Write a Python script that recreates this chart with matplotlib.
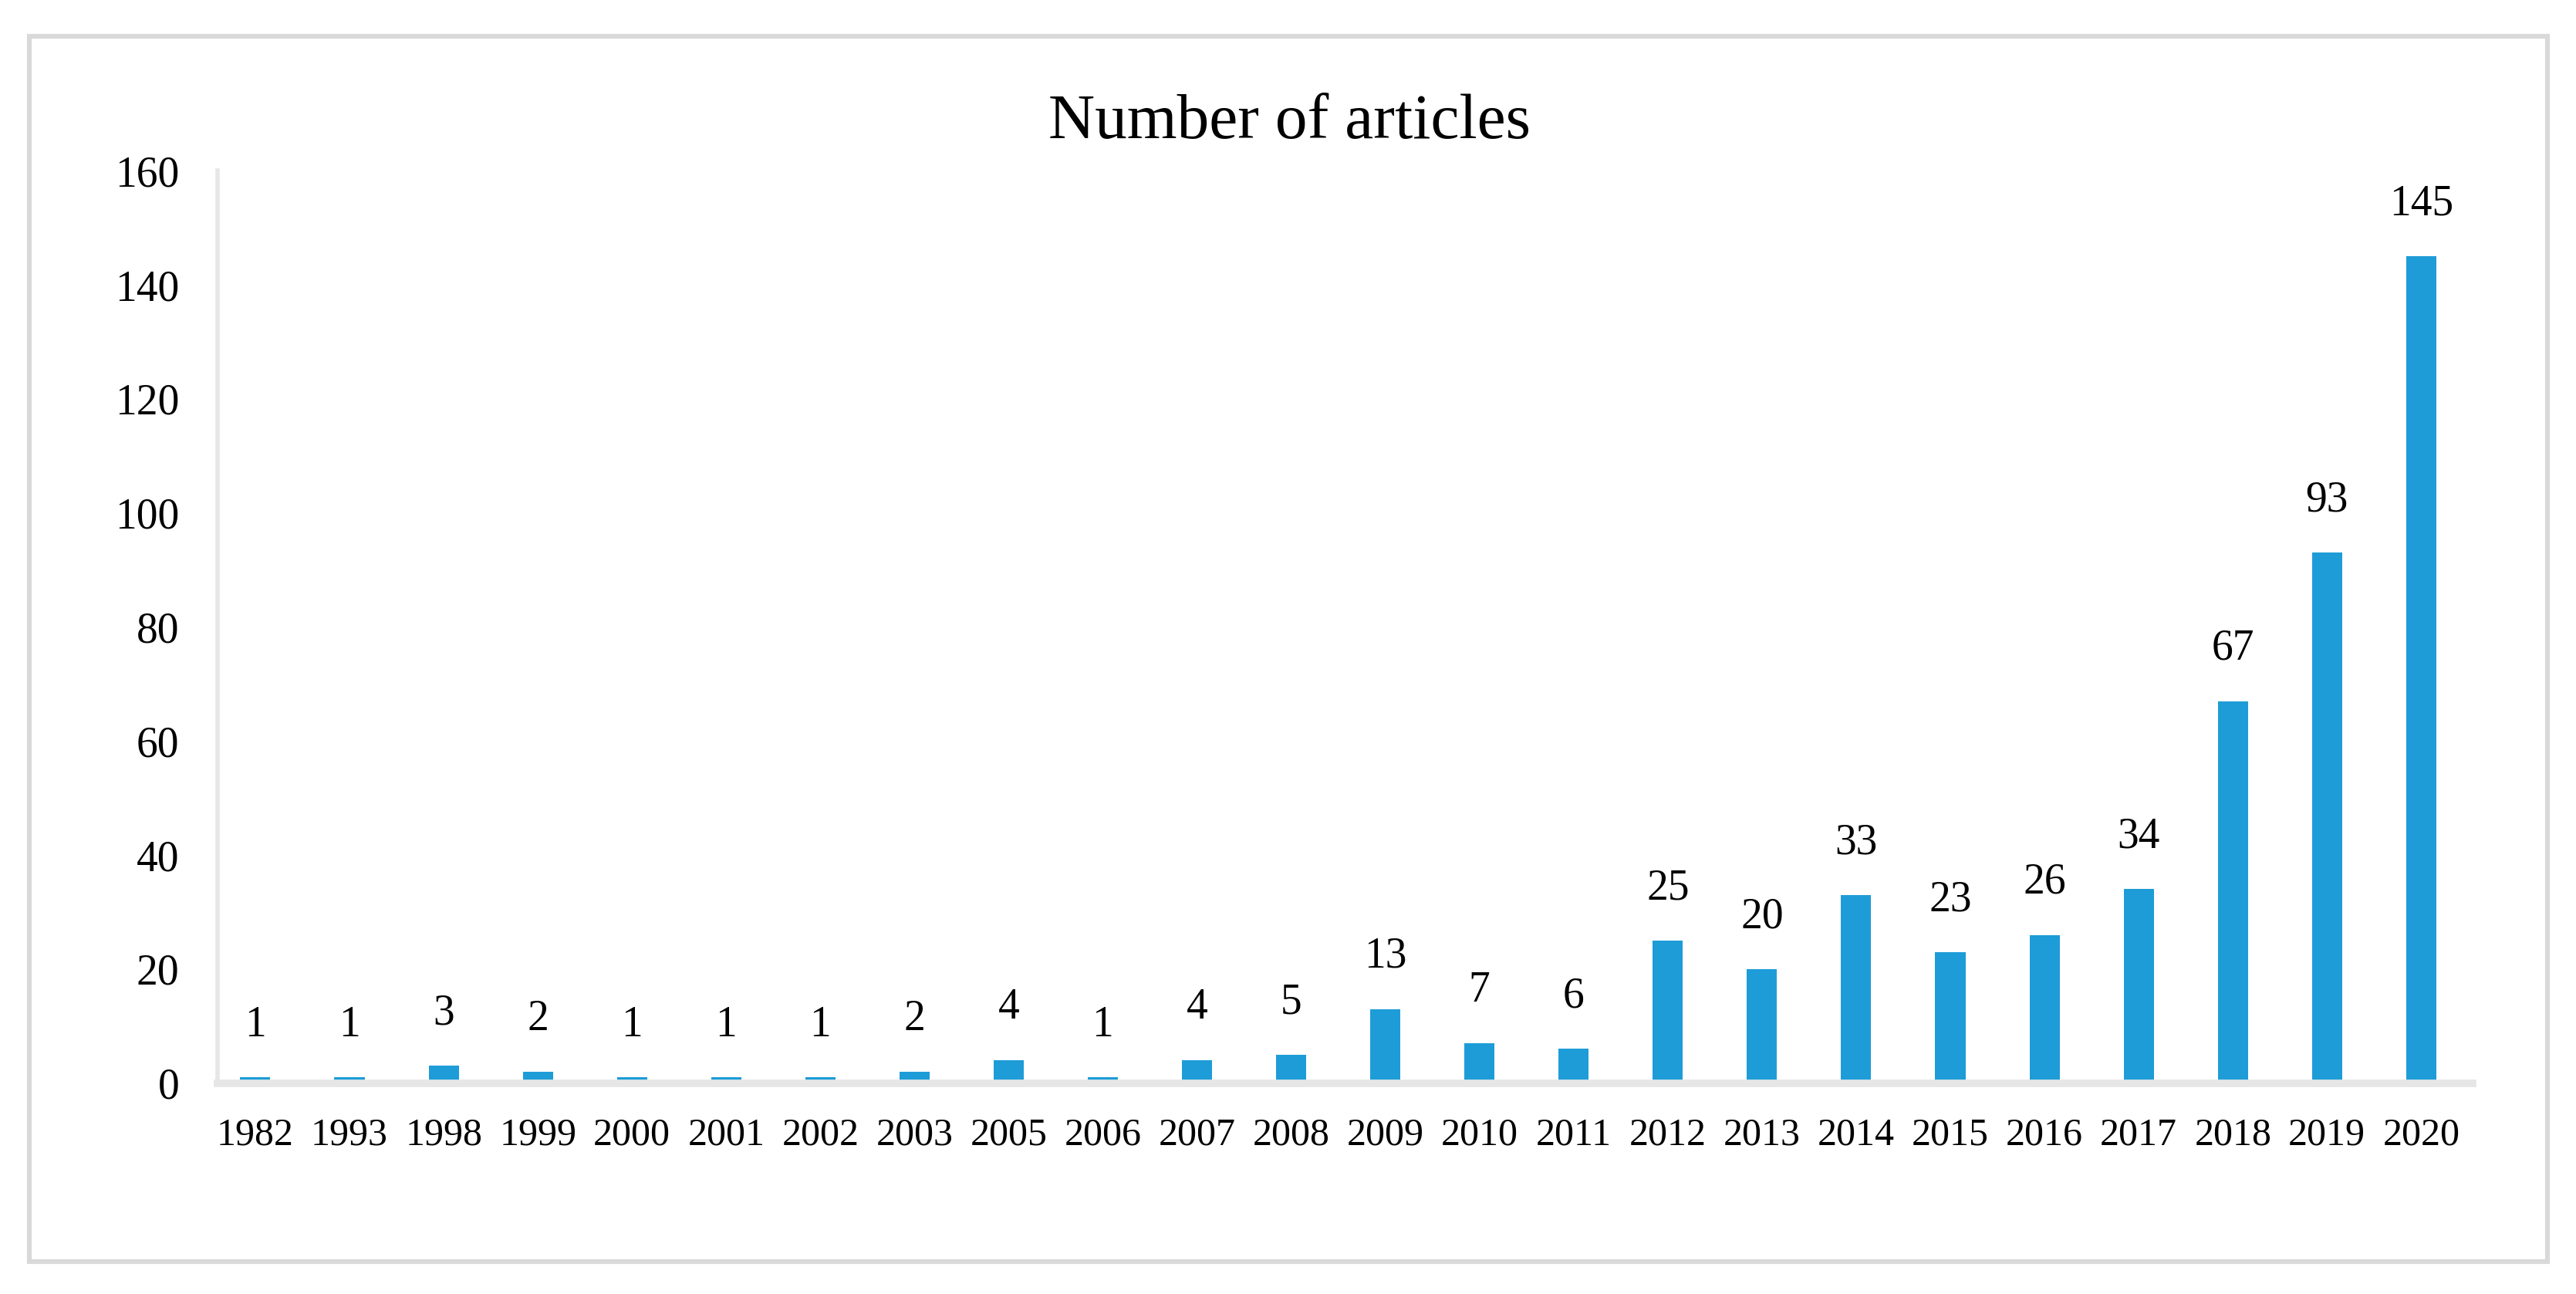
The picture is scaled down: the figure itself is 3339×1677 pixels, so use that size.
import matplotlib.pyplot as plt
from matplotlib.patches import Rectangle

years = ['1982', '1993', '1998', '1999', '2000', '2001', '2002', '2003', '2005', '2006',
         '2007', '2008', '2009', '2010', '2011', '2012', '2013', '2014', '2015', '2016',
         '2017', '2018', '2019', '2020']
articles = [1, 1, 3, 2, 1, 1, 1, 2, 4, 1, 4, 5, 13, 7, 6, 25, 20, 33, 23, 26, 34, 67, 93, 145]
y_ticks = [0, 20, 40, 60, 80, 100, 120, 140, 160]

plt.rcParams['font.family'] = ['Liberation Serif', 'DejaVu Serif']

fig = plt.figure(figsize=(3339 / 200, 1677 / 200), dpi=200)
ax = fig.add_axes([0.0845, 0.163, 0.8755, 0.705])

x = range(len(years))
ax.bar(x, articles, width=0.32, color="#1E9CD7", zorder=2)

for i, v in enumerate(articles):
    ax.annotate(str(v), (i, v), xytext=(0, 15), textcoords='offset points',
                ha='center', va='bottom', fontsize=20)

ax.set_xticks(list(x))
ax.set_xticklabels(years, fontsize=18)
ax.set_yticks(y_ticks)
ax.set_yticklabels([str(t) for t in y_ticks], fontsize=20)
ax.set_ylim(0, 160)
ax.set_xlim(-0.4, 23.55)
ax.tick_params(axis='both', length=0)
ax.tick_params(axis='x', pad=16)
ax.tick_params(axis='y', pad=18)

for s in ['top', 'right']:
    ax.spines[s].set_visible(False)
ax.spines['left'].set_color("#E6E6E6")
ax.spines['left'].set_linewidth(2)
ax.spines['bottom'].set_color("#E6E6E6")
ax.spines['bottom'].set_linewidth(3.5)

fig.text(0.5005, 0.905, "Number of articles", ha='center', va='center', fontsize=30)

# outer frame
fig.patches.append(Rectangle((0.0114, 0.025), 0.9776, 0.947, transform=fig.transFigure,
                             fill=False, edgecolor="#D9D9D9", linewidth=2.2))

fig.savefig("out.png", dpi=200, facecolor="white")
